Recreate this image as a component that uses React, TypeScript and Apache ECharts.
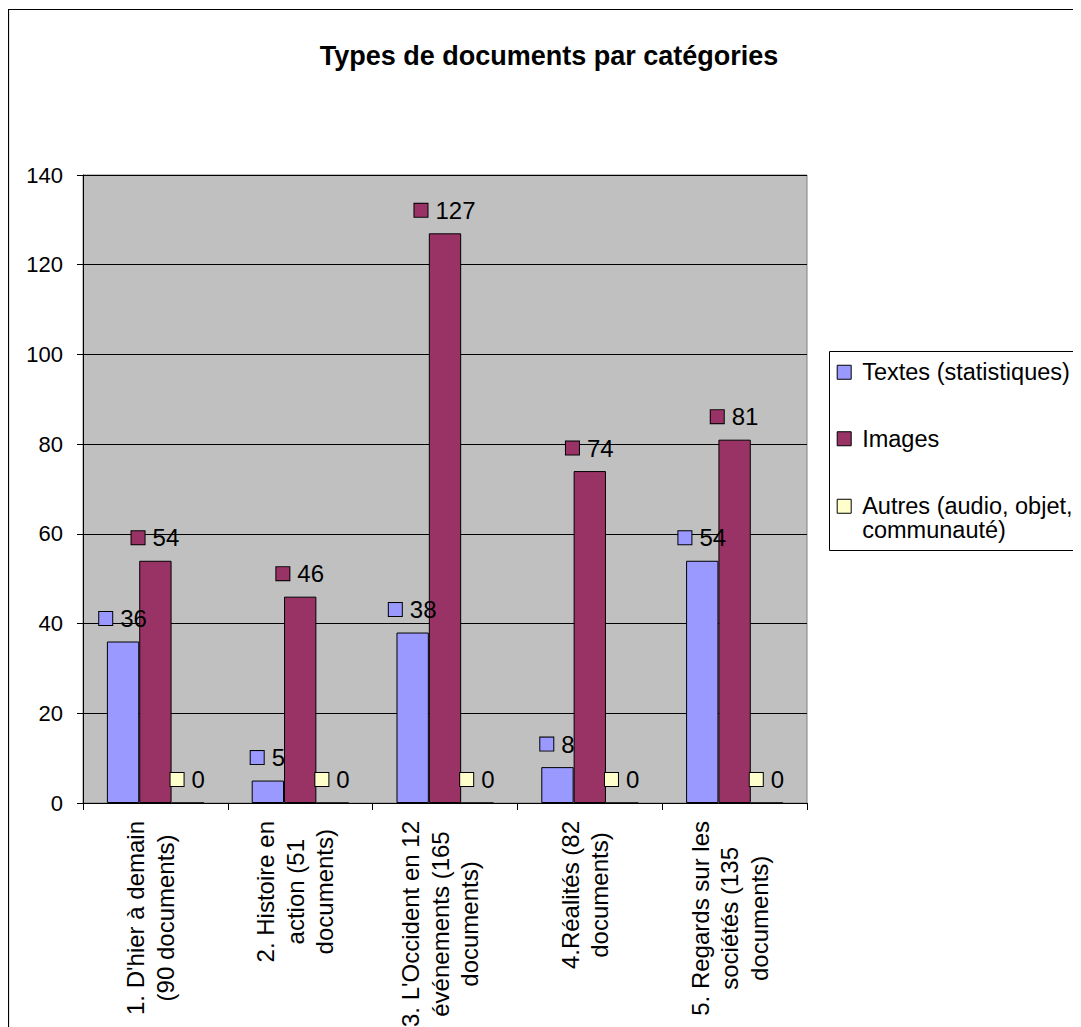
import React, { useEffect, useRef } from "react";
import * as echarts from "echarts";

const FONT = "'Liberation Sans', Arial, sans-serif";

const titleText = "Types de documents par catégories";
const categories = [
  "1. D'hier à demain\n(90 documents)",
  "2. Histoire en\naction (51\ndocuments)",
  "3. L'Occident en 12\névénements (165\ndocuments)",
  "4.Réalités (82\ndocuments)",
  "5. Regards sur les\nsociétés (135\ndocuments)",
];
const seriesNames = ["Textes (statistiques)", "Images", "Autres (audio, objet,\ncommunauté)"];
const textes = [36, 5, 38, 8, 54];
const images = [54, 46, 127, 74, 81];
const autres = [0, 0, 0, 0, 0];
const seriesColors = ["#9999FF", "#993366", "#FFFFCC"];
const yTicks = { min: 0, max: 140, interval: 20 };

export default function App() {
  const ref = useRef<HTMLDivElement>(null);
  useEffect(() => {
    document.documentElement.style.overflow = "hidden";
    document.body.style.overflow = "hidden";
    const chart = echarts.init(ref.current!, null, { renderer: "svg" });
    const values = [textes, images, autres];
    const series = values.map((data, i) => ({
      name: seriesNames[i],
      type: "bar",
      data,
      barGap: "0%",
      barCategoryGap: "33%",
      itemStyle: { color: seriesColors[i], borderColor: "#000", borderWidth: 1 },
      label: {
        show: true,
        position: "top",
        distance: 11,
        formatter: (p: any) => `{m|}{v|${p.value}}`,
        rich: {
          m: {
            width: 13,
            height: 13,
            backgroundColor: seriesColors[i],
            borderColor: "#000",
            borderWidth: 1,
          },
          v: {
            fontSize: 24,
            fontFamily: FONT,
            color: "#000",
            padding: [0, 0, 0, 8],
          },
        },
      },
    }));
    const legendCommon = {
      orient: "vertical",
      left: 821,
      itemWidth: 14,
      itemHeight: 14,
      icon: "rect",
      selectedMode: false,
      itemStyle: { borderColor: "#000", borderWidth: 1 },
      textStyle: {
        fontSize: 23.5,
        lineHeight: 23.5,
        color: "#000",
        fontFamily: FONT,
        padding: [0, 0, 0, 6],
      },
    };
    chart.setOption({
      animation: false,
      backgroundColor: "#fff",
      textStyle: { fontFamily: FONT },
      title: {
        text: titleText,
        left: 541,
        top: 34,
        textAlign: "center",
        padding: 0,
        textStyle: { fontSize: 27, fontWeight: "bold", color: "#000", fontFamily: FONT },
      },
      graphic: [
        {
          type: "polyline",
          shape: { points: [[3000, 1.5], [0.5, 1.5], [0.5, 3000]] },
          style: { fill: "none", stroke: "#000", lineWidth: 1.2 },
          silent: true,
          z: 100,
        },
        {
          type: "rect",
          shape: { x: 821.5, y: 343.5, width: 251, height: 199 },
          style: { fill: "#fff", stroke: "#000", lineWidth: 1 },
          silent: true,
          z: 0,
        },
      ],
      legend: [
        {
          ...legendCommon,
          top: 343,
          padding: [9.25, 0, 0, 7.7],
          itemGap: 42.5,
          data: [seriesNames[0], seriesNames[1]],
        },
        {
          ...legendCommon,
          top: 462.75,
          padding: [0, 0, 0, 7.7],
          formatter: (name: string) => "\n" + name,
          data: [seriesNames[2]],
        },
      ],
      grid: {
        left: 75,
        right: 274,
        top: 167,
        bottom: 224,
        show: true,
        outerBoundsMode: "none",
        containLabel: false,
        backgroundColor: "#C0C0C0",
        borderColor: "#808080",
        borderWidth: 1,
      },
      xAxis: {
        type: "category",
        data: categories,
        axisLine: { lineStyle: { color: "#000", width: 1 } },
        axisTick: { show: true, length: 7, lineStyle: { color: "#000" } },
        axisLabel: {
          interval: 0,
          rotate: 90,
          margin: 18,
          padding: [0, 0, 10, 0],
          formatter: (v: string) =>
            v
              .split("\n")
              .map((l) => `{c|${l}}`)
              .join("\n"),
          rich: {
            c: {
              align: "center",
              fontSize: 24,
              lineHeight: 29.5,
              color: "#000",
              fontFamily: FONT,
            },
          },
        },
      },
      yAxis: {
        type: "value",
        min: yTicks.min,
        max: yTicks.max,
        interval: yTicks.interval,
        axisLine: { show: true, lineStyle: { color: "#000", width: 1 } },
        axisTick: { show: true, length: 6, lineStyle: { color: "#000" } },
        axisLabel: { fontSize: 22, color: "#000", margin: 20, fontFamily: FONT },
        splitLine: { show: true, lineStyle: { color: "#000", width: 1 } },
      },
      series,
    });
    return () => chart.dispose();
  }, []);
  return <div ref={ref} style={{ width: 1073, height: 1019 }} />;
}
